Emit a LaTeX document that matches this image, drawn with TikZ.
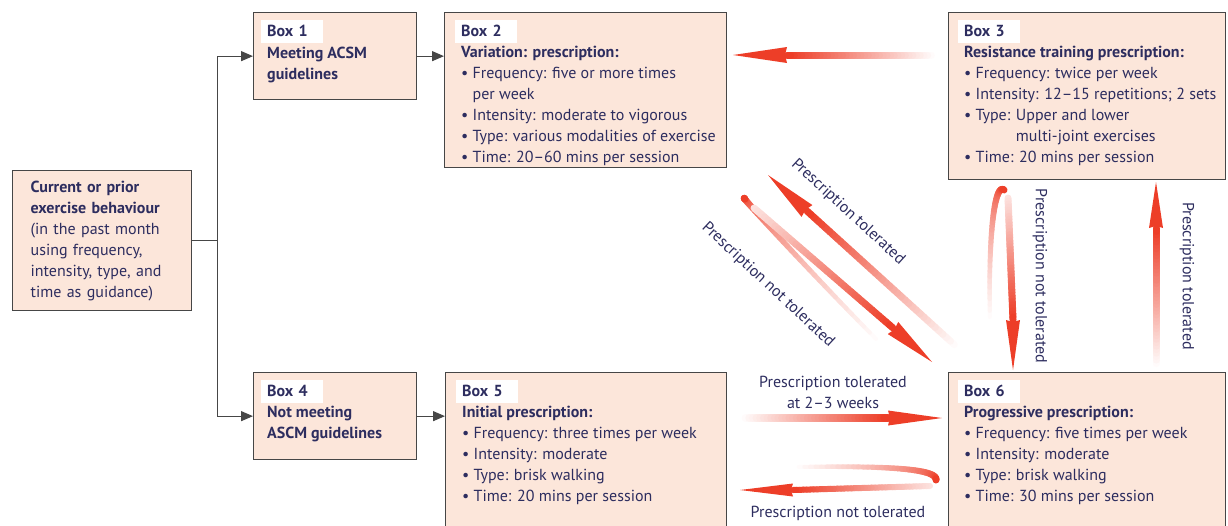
\documentclass[tikz,border=0pt]{standalone}
\usepackage{fontspec}
\setmainfont{PT Sans}
\usetikzlibrary{calc,positioning,arrows.meta}
\definecolor{navy}{RGB}{45,45,95}
\definecolor{peach}{RGB}{252,230,218}
\definecolor{frame}{RGB}{70,70,70}
\definecolor{arrowred}{RGB}{237,62,40}
\tikzset{
  box/.style={draw=frame, line width=1.3pt, fill=peach, anchor=north west, inner sep=0pt},
  tag/.style={fill=white, text=navy, font=\fontsize{16}{21}\selectfont\bfseries, anchor=north west,
    inner xsep=6pt, inner ysep=0pt, text height=16.5pt, text depth=6.5pt, text width=50pt},
  body/.style={text=navy, font=\fontsize{16}{21}\selectfont, align=left, anchor=north west,
    inner xsep=6pt, inner ysep=3pt},
  note/.style={text=navy, font=\fontsize{16}{21}\selectfont, align=center},
  link/.style={draw=frame, line width=1.2pt, -{Triangle[length=12pt,width=10pt]}}
}
\newcommand{\fadestroke}[5]{%
  \foreach \k [evaluate=\k as \q using \k/40] in {0,...,40}
    {\path #1 coordinate[pos=\q] (fs\k);}
  \foreach \k [evaluate=\k as \j using int(\k+1),
               evaluate=\k as \c using int(#2+(#3-#2)*\k/39),
               evaluate=\k as \w using #4+(#5-#4)*\k/39] in {0,...,39}
    {\draw[line cap=round, line width=\w pt, draw=arrowred!\c!white] (fs\k) -- (fs\j);}}
\newcommand{\fadehead}[3]{%
  \fill[arrowred] (#2) -- ($(#1)!#3!90:(#2)$) -- ($(#1)!2pt!(#2)$) -- ($(#1)!#3!-90:(#2)$) -- cycle;}
\newcommand{\redarrow}[6]{%
  \fadestroke{(#1) -- (#2)}{#4}{100}{#5}{#5}%
  \fadehead{#2}{#3}{#6}}

\begin{document}
\begin{tikzpicture}[x=1pt, y=-1pt]
\clip (0,0) rectangle (1228,525);

\node[box, minimum width=179pt, minimum height=140pt, text=navy, font=\fontsize{16}{21}\selectfont,
  align=left, text width=143pt, inner xsep=18pt] (cur) at (12,170)
  {\textbf{Current or prior}\\\textbf{exercise behaviour}\\(in the past month\\using frequency,\\intensity, type, and\\time as guidance)};

\node[box, minimum width=163pt, minimum height=87pt] (b1) at (253,12) {};
\node[box, minimum width=282pt, minimum height=155pt] (b2) at (444,12) {};
\node[box, minimum width=277pt, minimum height=167pt] (b3) at (948,12) {};
\node[box, minimum width=163pt, minimum height=87pt] (b4) at (253,372) {};
\node[box, minimum width=281pt, minimum height=180pt] (b5) at (445,372) {};
\node[box, minimum width=277pt, minimum height=180pt] (b6) at (948,372) {};

\node[tag] (t1) at ($(b1.north west)+(8,8)$) {Box 1};
\node[tag] (t2) at ($(b2.north west)+(11,8)$) {Box 2};
\node[tag] (t3) at ($(b3.north west)+(10,8)$) {Box 3};
\node[tag] (t4) at ($(b4.north west)+(8,8)$) {Box 4};
\node[tag] (t5) at ($(b5.north west)+(11,8)$) {Box 5};
\node[tag] (t6) at ($(b6.north west)+(10,8)$) {Box 6};

\node[body] at (t1.south west) {\textbf{Meeting ACSM}\\\textbf{guidelines}};
\node[body] at (t2.south west) {\textbf{Variation: prescription:}\\
  \textbullet\ Frequency: five or more times\\
  \phantom{\textbullet\ }per week\\
  \textbullet\ Intensity: moderate to vigorous\\
  \textbullet\ Type: various modalities of exercise\\
  \textbullet\ Time: 20–60 mins per session};
\node[body] at (t3.south west) {\textbf{Resistance training prescription:}\\
  \textbullet\ Frequency: twice per week\\
  \textbullet\ Intensity: 12–15 repetitions; 2 sets\\
  \textbullet\ Type: Upper and lower\\
  \phantom{\textbullet\ Type: }multi-joint exercises\\
  \textbullet\ Time: 20 mins per session};
\node[body] at (t4.south west) {\textbf{Not meeting}\\\textbf{ASCM guidelines}};
\node[body] at (t5.south west) {\textbf{Initial prescription:}\\
  \textbullet\ Frequency: three times per week\\
  \textbullet\ Intensity: moderate\\
  \textbullet\ Type: brisk walking\\
  \textbullet\ Time: 20 mins per session};
\node[body] at (t6.south west) {\textbf{Progressive prescription:}\\
  \textbullet\ Frequency: five times per week\\
  \textbullet\ Intensity: moderate\\
  \textbullet\ Type: brisk walking\\
  \textbullet\ Time: 30 mins per session};

\coordinate (jn) at ($(cur.east)+(25,0)$);
\draw[draw=frame, line width=1.2pt] (cur.east) -- (jn);
\draw[link] (jn) |- (b1.west);
\draw[link] (jn) |- (b4.west);
\draw[link] (b1.east) -- (b1.east -| b2.west);
\draw[link] (b4.east) -- (b4.east -| b5.west);

\coordinate (vart) at (935,55);   \coordinate (varb) at (787,55);   \coordinate (varh) at (733,55);
\coordinate (init) at (742,418);  \coordinate (inib) at (888,418);  \coordinate (inih) at (942,418);
\coordinate (backs) at (793,467); \coordinate (backu) at (936,480);
\coordinate (backt) at (930,486); \coordinate (backb) at (793,490); \coordinate (backh) at (740,490);
\coordinate (dupt) at (958,348);  \coordinate (dupb) at (807,211);  \coordinate (duph) at (768,175);
\coordinate (ddns) at (882,345);  \coordinate (ddnu) at (745,199);
\coordinate (ddnt) at (754,208);  \coordinate (ddnb) at (893,328);  \coordinate (ddnh) at (932,362);
\coordinate (rdns) at (990,323);  \coordinate (rdnu) at (1004,190);
\coordinate (rdnt) at (1008,198); \coordinate (rdnb) at (1013,320); \coordinate (rdnh) at (1013,370);
\coordinate (rupt) at (1156,367); \coordinate (rupb) at (1156,228); \coordinate (ruph) at (1156,182);

\redarrow{vart}{varb}{varh}{0}{7}{8pt}
\redarrow{init}{inib}{inih}{0}{8}{7.5pt}
\fadestroke{(backs) .. controls (870,466) and (938,467) .. (backu)}{0}{100}{4}{7}
\redarrow{backt}{backb}{backh}{15}{6}{6.5pt}
\redarrow{dupt}{dupb}{duph}{0}{7}{8pt}
\fadestroke{(ddns) .. controls (800,262) and (736,190) .. (ddnu)}{0}{100}{4}{7}
\redarrow{ddnt}{ddnb}{ddnh}{15}{7}{8pt}
\fadestroke{(rdns) .. controls (988,240) and (994,182) .. (rdnu)}{0}{100}{4}{7}
\redarrow{rdnt}{rdnb}{rdnh}{15}{7}{7pt}
\redarrow{rupt}{rupb}{ruph}{0}{7}{7pt}

\node[note] (lini) at (833,392) {Prescription tolerated\\at 2–3 weeks};
\node[note] (lback) at (838,513) {Prescription not tolerated};
\node[note, rotate=-42.5] (ldup) at (848,212) {Prescription tolerated};
\node[note, rotate=-43] (lddn) at (768,285) {Prescription not tolerated};
\node[note, rotate=-90] (lrdn) at (1040,276) {Prescription not tolerated};
\node[note, rotate=-90] (lrup) at (1187,276) {Prescription tolerated};
\end{tikzpicture}
\end{document}
